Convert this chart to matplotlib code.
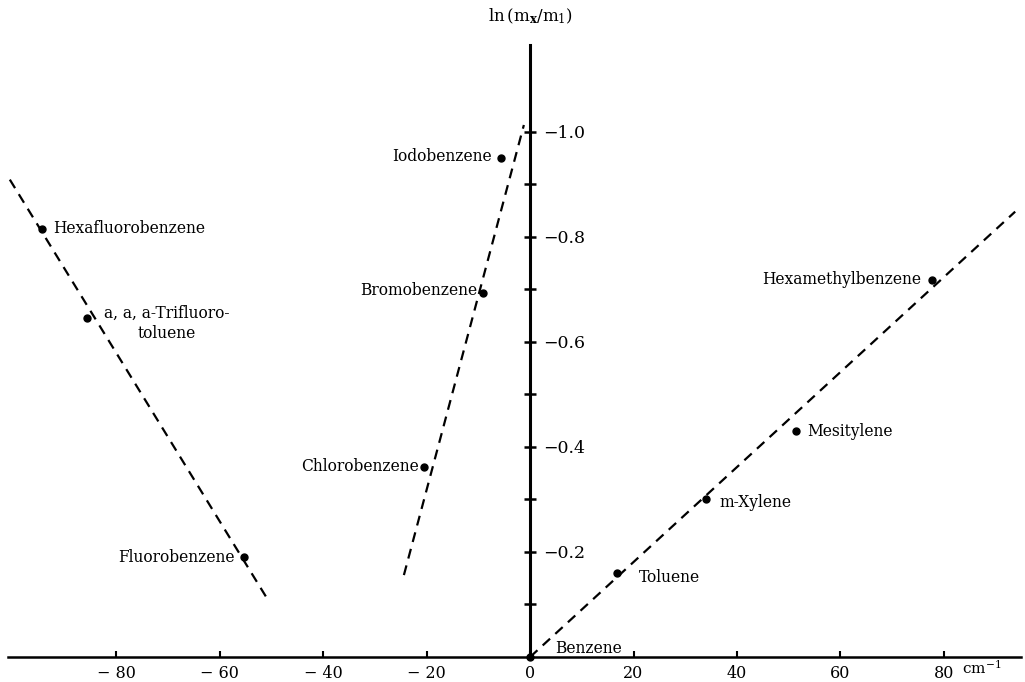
import numpy as np
import matplotlib
matplotlib.use("Agg")
import matplotlib.pyplot as plt
from matplotlib.ticker import FixedLocator, FuncFormatter

# wavenumber shift (cm^-1) and ln(mx/m1) for each compound
names = ["Hexafluorobenzene", "a, a, a-Trifluoro-\ntoluene", "Fluorobenzene",
         "Chlorobenzene", "Bromobenzene", "Iodobenzene",
         "Benzene", "Toluene", "m-Xylene", "Mesitylene", "Hexamethylbenzene"]
shift = [-94.4, -85.7, -55.3, -20.5, -9.1, -5.6, 0.0, 16.8, 34.0, 51.5, 77.8]
lnratio = [0.815, 0.646, 0.19, 0.362, 0.693, 0.95, 0.0, 0.16, 0.30, 0.43, 0.718]

# label placement: offset in points and alignment
label_off = [(8, 0), (12, -4), (-7, 0), (-4, 0), (-4, 2), (-7, 1),
             (18, 6), (16, -3), (10, -2), (8, 0), (-8, 0)]
label_ha = ["left", "left", "right", "right", "right", "right",
            "left", "left", "left", "left", "right"]

# hand-drawn trend lines (endpoints)
fluoro_x = [-100.6, -50.7]
fluoro_y = [0.909, 0.109]
halo_x = [-24.4, -1.2]
halo_y = [0.156, 1.013]
methyl_x = [0.0, 93.8]
methyl_y = [0.0, 0.848]

xticks = [-80, -60, -40, -20, 0, 20, 40, 60, 80]
yticks_major = [0.2, 0.4, 0.6, 0.8, 1.0]
yticks_minor = [0.1, 0.3, 0.5, 0.7, 0.9]

plt.rcParams['font.family'] = ['DejaVu Serif']
plt.rcParams['mathtext.fontset'] = 'dejavuserif'

fig = plt.figure(figsize=(10.25, 6.82), dpi=100)
ax = fig.add_axes([0, 0, 1, 1])
ax.set_xlim(-102.5, 95.7)
ax.set_ylim(-0.0476, 1.251)

for s in ["top", "right"]:
    ax.spines[s].set_visible(False)
ax.spines["left"].set_position(("data", 0))
ax.spines["bottom"].set_position(("data", 0))
ax.spines["left"].set_bounds(0, 1.166)
ax.spines["bottom"].set_bounds(-101, 95)
ax.spines["left"].set_linewidth(2.2)
ax.spines["bottom"].set_linewidth(1.8)

ax.set_xticks(xticks)
ax.xaxis.set_major_formatter(FuncFormatter(
    lambda v, p: ("\u2212 %d" % abs(v)) if v < 0 else "%d" % v))
ax.tick_params(axis="x", direction="in", length=4, width=1.5, pad=6,
               labelsize=11.5)

ax.yaxis.set_major_locator(FixedLocator(yticks_major))
ax.yaxis.set_minor_locator(FixedLocator(yticks_minor))
ax.yaxis.set_major_formatter(FuncFormatter(lambda v, p: "\u2212%.1f" % v))
ax.tick_params(axis="y", which="both", direction="inout", length=9, width=1.8)
ax.tick_params(axis="y", which="major", pad=-14, labelsize=12.5)
for lab in ax.get_yticklabels():
    lab.set_horizontalalignment("left")

dash = dict(color="black", lw=1.6, dashes=(4.5, 3.2))
ax.plot(fluoro_x, fluoro_y, **dash)
ax.plot(halo_x, halo_y, **dash)
ax.plot(methyl_x, methyl_y, **dash)

ax.plot(shift, lnratio, "o", color="black", ms=5, zorder=5)

for n, x, y, off, ha in zip(names, shift, lnratio, label_off, label_ha):
    ax.annotate(n, (x, y), xytext=off, textcoords="offset points",
                ha=ha, va="center", fontsize=11.2, multialignment="center")

ax.text(0, 1.22, r"ln$\,$(m$_\mathbf{x}$/m$_1$)", ha="center", va="center",
        fontsize=12)
ax.text(83.5, -0.02, r"cm$^{-1}$", ha="left", va="center", fontsize=11)

fig.savefig("out.png", dpi=100)
